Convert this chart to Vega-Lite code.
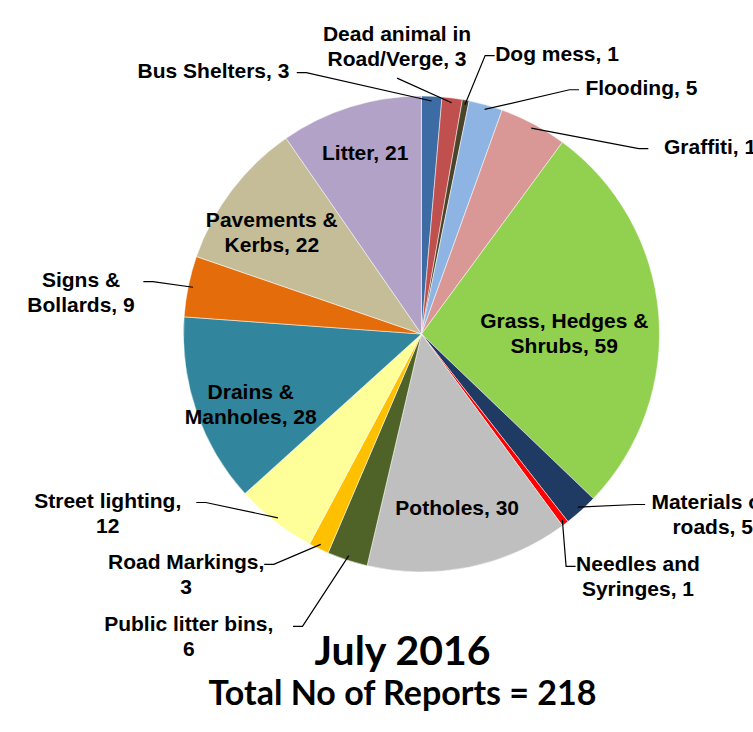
{
  "$schema": "https://vega.github.io/schema/vega-lite/v6.json",
  "width": 753,
  "height": 732,
  "autosize": "none",
  "padding": 0,
  "background": "white",
  "config": {"view": {"stroke": null}},
  "title": {
    "text": "July 2016",
    "subtitle": "Total No of Reports = 218",
    "orient": "bottom",
    "anchor": "middle",
    "frame": "group",
    "offset": -99,
    "dx": 26,
    "font": "Lato",
    "fontSize": 41,
    "fontWeight": "bold",
    "color": "black",
    "subtitleFont": "Lato",
    "subtitleFontSize": 34,
    "subtitleFontWeight": "bold",
    "subtitleColor": "black",
    "subtitlePadding": 4
  },
  "data": {
    "values": [
      {"category": "Bus Shelters", "label": "Bus Shelters, 3", "count": 3},
      {"category": "Dead animal in Road/Verge", "label": "Dead animal in\nRoad/Verge, 3", "count": 3},
      {"category": "Dog mess", "label": "Dog mess, 1", "count": 1},
      {"category": "Flooding", "label": "Flooding, 5", "count": 5},
      {"category": "Graffiti", "label": "Graffiti, 10", "count": 10},
      {"category": "Grass, Hedges & Shrubs", "label": "Grass, Hedges &\nShrubs, 59", "count": 59},
      {"category": "Materials on roads", "label": "Materials on\nroads, 5", "count": 5},
      {"category": "Needles and Syringes", "label": "Needles and\nSyringes, 1", "count": 1},
      {"category": "Potholes", "label": "Potholes, 30", "count": 30},
      {"category": "Public litter bins", "label": "Public litter bins,\n6", "count": 6},
      {"category": "Road Markings", "label": "Road Markings,\n3", "count": 3},
      {"category": "Street lighting", "label": "Street lighting,\n12", "count": 12},
      {"category": "Drains & Manholes", "label": "Drains &\nManholes, 28", "count": 28},
      {"category": "Signs & Bollards", "label": "Signs &\nBollards, 9", "count": 9},
      {"category": "Pavements & Kerbs", "label": "Pavements &\nKerbs, 22", "count": 22},
      {"category": "Litter", "label": "Litter, 21", "count": 21}
    ]
  },
  "transform": [
    {"window": [{"op": "row_number", "as": "idx"}]},
    {"joinaggregate": [{"op": "sum", "field": "count", "as": "total"}]},
    {"window": [{"op": "sum", "field": "count", "as": "cum"}], "sort": [{"field": "idx"}], "frame": [null, 0]},
    {"calculate": "(datum.cum - datum.count / 2) / datum.total * 2 * PI", "as": "mid"},
    {"calculate": "datum.count / datum.total", "as": "frac"},
    {"calculate": "datum.frac >= 0.09", "as": "inside"}
  ],
  "layer": [
    {
      "mark": {"type": "arc", "outerRadius": 238, "stroke": "white", "strokeWidth": 0.5},
      "encoding": {
        "theta": {"field": "count", "type": "quantitative", "stack": true},
        "order": {"field": "idx", "type": "quantitative"},
        "color": {
          "field": "category",
          "type": "nominal",
          "legend": null,
          "scale": {
            "domain": ["Bus Shelters", "Dead animal in Road/Verge", "Dog mess", "Flooding", "Graffiti", "Grass, Hedges & Shrubs", "Materials on roads", "Needles and Syringes", "Potholes", "Public litter bins", "Road Markings", "Street lighting", "Drains & Manholes", "Signs & Bollards", "Pavements & Kerbs", "Litter"],
            "range": ["#3D6CA4", "#C0504D", "#4A452A", "#8DB4E2", "#D99795", "#92D050", "#1F3A63", "#FF0000", "#BFBFBF", "#4F6228", "#FFC000", "#FFFF99", "#31859C", "#E46C0A", "#C4BD97", "#B3A2C7"]
          }
        },
        "x": {"datum": 0, "type": "quantitative", "axis": null, "scale": {"domain": [-1.771, 1.393], "nice": false, "zero": false}},
        "y": {"datum": 0, "type": "quantitative", "axis": null, "scale": {"domain": [-1.6723, 1.4034], "nice": false, "zero": false}}
      }
    },
    {
      "transform": [
        {"filter": "datum.inside"},
        {"calculate": "sin(datum.mid) * (0.9 - 1.1 * datum.frac)", "as": "ix"},
        {"calculate": "cos(datum.mid) * (0.9 - 1.1 * datum.frac)", "as": "iy"}
      ],
      "mark": {"type": "text", "font": "Liberation Sans", "fontWeight": "bold", "fontSize": 21, "lineHeight": 25, "lineBreak": "\n", "align": "center", "baseline": "middle", "color": "black"},
      "encoding": {
        "text": {"field": "label"},
        "x": {"field": "ix", "type": "quantitative", "axis": null, "scale": {"domain": [-1.771, 1.393], "nice": false, "zero": false}},
        "y": {"field": "iy", "type": "quantitative", "axis": null, "scale": {"domain": [-1.6723, 1.4034], "nice": false, "zero": false}}
      }
    },
    {
      "transform": [
        {"filter": "!datum.inside"},
        {"window": [{"op": "lag", "field": "mid", "as": "prevMid"}], "sort": [{"field": "idx"}]},
        {"calculate": "datum.prevMid == null || datum.mid - datum.prevMid > 0.44 ? 1 : 0", "as": "newc"},
        {"window": [{"op": "sum", "field": "newc", "as": "cid"}], "sort": [{"field": "idx"}], "frame": [null, 0]},
        {"calculate": "cos(datum.mid) * 1.1", "as": "cy"},
        {"joinaggregate": [{"op": "mean", "field": "mid", "as": "mMid"}, {"op": "mean", "field": "cy", "as": "mCy"}, {"op": "count", "as": "n"}], "groupby": ["cid"]},
        {"window": [{"op": "row_number", "as": "rk"}], "groupby": ["cid"], "sort": [{"field": "idx"}]},
        {"calculate": "datum.rk - (datum.n + 1) / 2", "as": "c"},
        {"calculate": "abs(cos(datum.mMid)) > 0.95", "as": "arcMode"},
        {"calculate": "datum.mMid + datum.c * 0.32", "as": "la"},
        {"calculate": "datum.arcMode ? (sin(datum.la) > 0.2 ? 1 : (sin(datum.la) < -0.2 ? -1 : 0)) : (sin(datum.mMid) > 0 ? 1 : -1)", "as": "side"},
        {"calculate": "datum.arcMode ? cos(datum.la) * (datum.side == 0 ? 1.08 : 1.2) : datum.mCy - datum.side * datum.c * 0.26", "as": "ly"},
        {"calculate": "datum.arcMode ? sin(datum.la) * (datum.side == 0 ? 1.08 : 1.2) : datum.side * max(sqrt(max(1.3225 - datum.ly * datum.ly, 0)), 0.5)", "as": "lx"},
        {"calculate": "datum.lx + datum.side * 0.04", "as": "sx"},
        {"calculate": "split(datum.label, '\\n')", "as": "lines"},
        {"calculate": "max(length(datum.lines[0]), length(peek(datum.lines))) * 0.044", "as": "w"},
        {"calculate": "datum.side == 0 ? datum.lx : datum.sx + datum.side * (0.02 + datum.w / 2)", "as": "tx"},
        {"calculate": "datum.side == 0 ? datum.ly + (length(datum.lines) * 25 + 4) / 238 : datum.ly + 12 / 238", "as": "ty"}
      ],
      "layer": [
        {
          "mark": {"type": "text", "font": "Liberation Sans", "fontWeight": "bold", "fontSize": 21, "lineHeight": 25, "lineBreak": "\n", "align": "center", "baseline": "top", "color": "black"},
          "encoding": {
            "text": {"field": "label"},
            "x": {"field": "tx", "type": "quantitative", "axis": null, "scale": {"domain": [-1.771, 1.393], "nice": false, "zero": false}},
            "y": {"field": "ty", "type": "quantitative", "axis": null, "scale": {"domain": [-1.6723, 1.4034], "nice": false, "zero": false}}
          }
        },
        {
          "transform": [
            {"calculate": "[0, 1, 2]", "as": "pts"},
            {"flatten": ["pts"], "as": ["pt"]},
            {"calculate": "datum.pt == 0 ? sin(datum.mid) * 0.98 : (datum.pt == 1 ? datum.lx : datum.sx)", "as": "px"},
            {"calculate": "datum.pt == 0 ? cos(datum.mid) * 0.98 : datum.ly", "as": "py"}
          ],
          "mark": {"type": "line", "color": "black", "strokeWidth": 1.2},
          "encoding": {
            "x": {"field": "px", "type": "quantitative", "axis": null, "scale": {"domain": [-1.771, 1.393], "nice": false, "zero": false}},
            "y": {"field": "py", "type": "quantitative", "axis": null, "scale": {"domain": [-1.6723, 1.4034], "nice": false, "zero": false}},
            "detail": {"field": "category"},
            "order": {"field": "pt", "type": "quantitative"}
          }
        }
      ]
    }
  ]
}
